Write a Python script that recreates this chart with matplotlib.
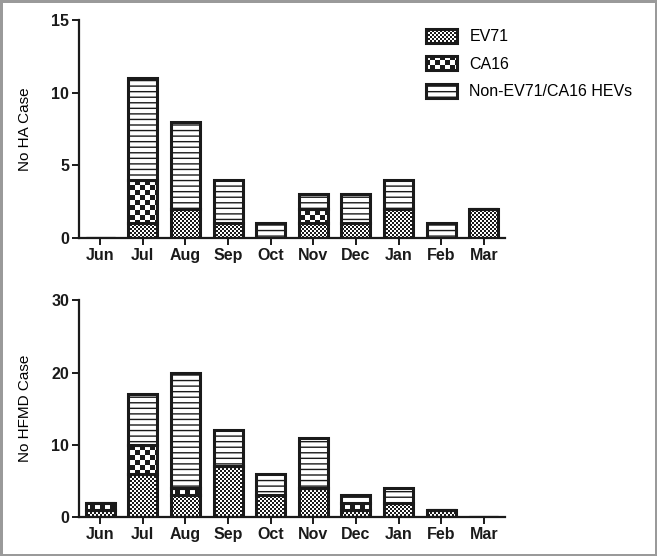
import matplotlib
matplotlib.use("Agg")
import matplotlib.pyplot as plt
import matplotlib.hatch as mhatch
from matplotlib.path import Path
import numpy as np

months = ["Jun", "Jul", "Aug", "Sep", "Oct", "Nov", "Dec", "Jan", "Feb", "Mar"]
series_names = ["EV71", "CA16", "Non-EV71/CA16 HEVs"]

ha_ev71 = [0, 1, 2, 1, 0, 1, 1, 2, 0, 2]
ha_ca16 = [0, 3, 0, 0, 0, 1, 0, 0, 0, 0]
ha_non  = [0, 7, 6, 3, 1, 1, 2, 2, 1, 0]

hfmd_ev71 = [1, 6, 3, 7, 3, 4, 1, 2, 1, 0]
hfmd_ca16 = [1, 4, 1, 0, 0, 0, 1, 0, 0, 0]
hfmd_non  = [0, 7, 16, 5, 3, 7, 1, 2, 0, 0]

HATCH_LW = 1.0


class CheckerHatch(mhatch.HatchPatternBase):
    """Checkerboard texture: 'O' -> coarse cells, 'o' -> fine cells."""
    def __init__(self, hatch, density):
        n_big = hatch.count('O')
        n_small = hatch.count('o')
        if n_big:
            self.cells = 20
        elif n_small:
            self.cells = 50
        else:
            self.cells = 0
        if self.cells:
            self.squares = [(i, j) for i in range(self.cells) for j in range(self.cells)
                            if (i + j) % 2 == 0]
        else:
            self.squares = []
        self.num_vertices = 5 * len(self.squares)

    def set_vertices_and_codes(self, vertices, codes):
        c = 1.0 / self.cells
        shrink = (HATCH_LW / 72.0) / 2.0
        k = 0
        for i, j in self.squares:
            x0 = i * c + shrink
            y0 = j * c + shrink
            x1 = (i + 1) * c - shrink
            y1 = (j + 1) * c - shrink
            vertices[k:k + 5] = [(x0, y0), (x1, y0), (x1, y1), (x0, y1), (x0, y0)]
            codes[k:k + 5] = [Path.MOVETO, Path.LINETO, Path.LINETO, Path.LINETO, Path.CLOSEPOLY]
            k += 5


mhatch._hatch_types[:] = [t for t in mhatch._hatch_types
                          if t not in (mhatch.SmallCircles, mhatch.LargeCircles)] + [CheckerHatch]

plt.rcParams['font.family'] = ['Liberation Sans', 'DejaVu Sans']
plt.rcParams['hatch.linewidth'] = HATCH_LW

hatches = ['o', 'O', '---']
faces = ['white', 'white', 'white']

fig = plt.figure(figsize=(6.57, 5.56), dpi=100)
fig.patch.set_edgecolor('#9a9a9a')
fig.patch.set_linewidth(2.5)

ax1 = fig.add_axes([0.120, 0.572, 0.649, 0.392])
ax2 = fig.add_axes([0.120, 0.070, 0.649, 0.390])


def draw(ax, ev, ca, non, ymax, step, ylabel):
    x = np.arange(len(months))
    bottom = np.zeros(len(months))
    handles = []
    for vals, h, fc, name in zip([ev, ca, non], hatches, faces, series_names):
        vals = np.array(vals, dtype=float)
        b = ax.bar(x, vals, 0.68, bottom=bottom, facecolor=fc, edgecolor='#1a1a1a',
                   hatch=h, linewidth=2.2, label=name, zorder=2)
        handles.append(b)
        bottom += vals
    ax.set_xlim(-0.5, 9.5)
    ax.set_ylim(0, ymax)
    ax.set_yticks(np.arange(0, ymax + 1, step))
    ax.set_xticks(x)
    ax.set_xticklabels(months, fontweight='bold', fontsize=11.5)
    for lab in ax.get_yticklabels():
        lab.set_fontweight('bold')
        lab.set_fontsize(11.5)
    for s in ['top', 'right']:
        ax.spines[s].set_visible(False)
    for s in ['left', 'bottom']:
        ax.spines[s].set_linewidth(1.6)
        ax.spines[s].set_color('#1a1a1a')
        ax.spines[s].set_zorder(3)
    ax.tick_params(axis='both', direction='out', length=5, width=1.4, pad=2, colors='#1a1a1a')
    ax.set_ylabel(ylabel, fontsize=11, labelpad=14)
    return handles


h = draw(ax1, ha_ev71, ha_ca16, ha_non, 15, 5, "No HA Case")
draw(ax2, hfmd_ev71, hfmd_ca16, hfmd_non, 30, 10, "No HFMD Case")

ax1.legend(handles=h, labels=series_names, loc='upper left', bbox_to_anchor=(0.80, 0.99),
           frameon=False, fontsize=11.5, handlelength=1.9, handleheight=1.0,
           handletextpad=0.8, labelspacing=0.75, borderaxespad=0)

fig.savefig("out.png", dpi=100)
